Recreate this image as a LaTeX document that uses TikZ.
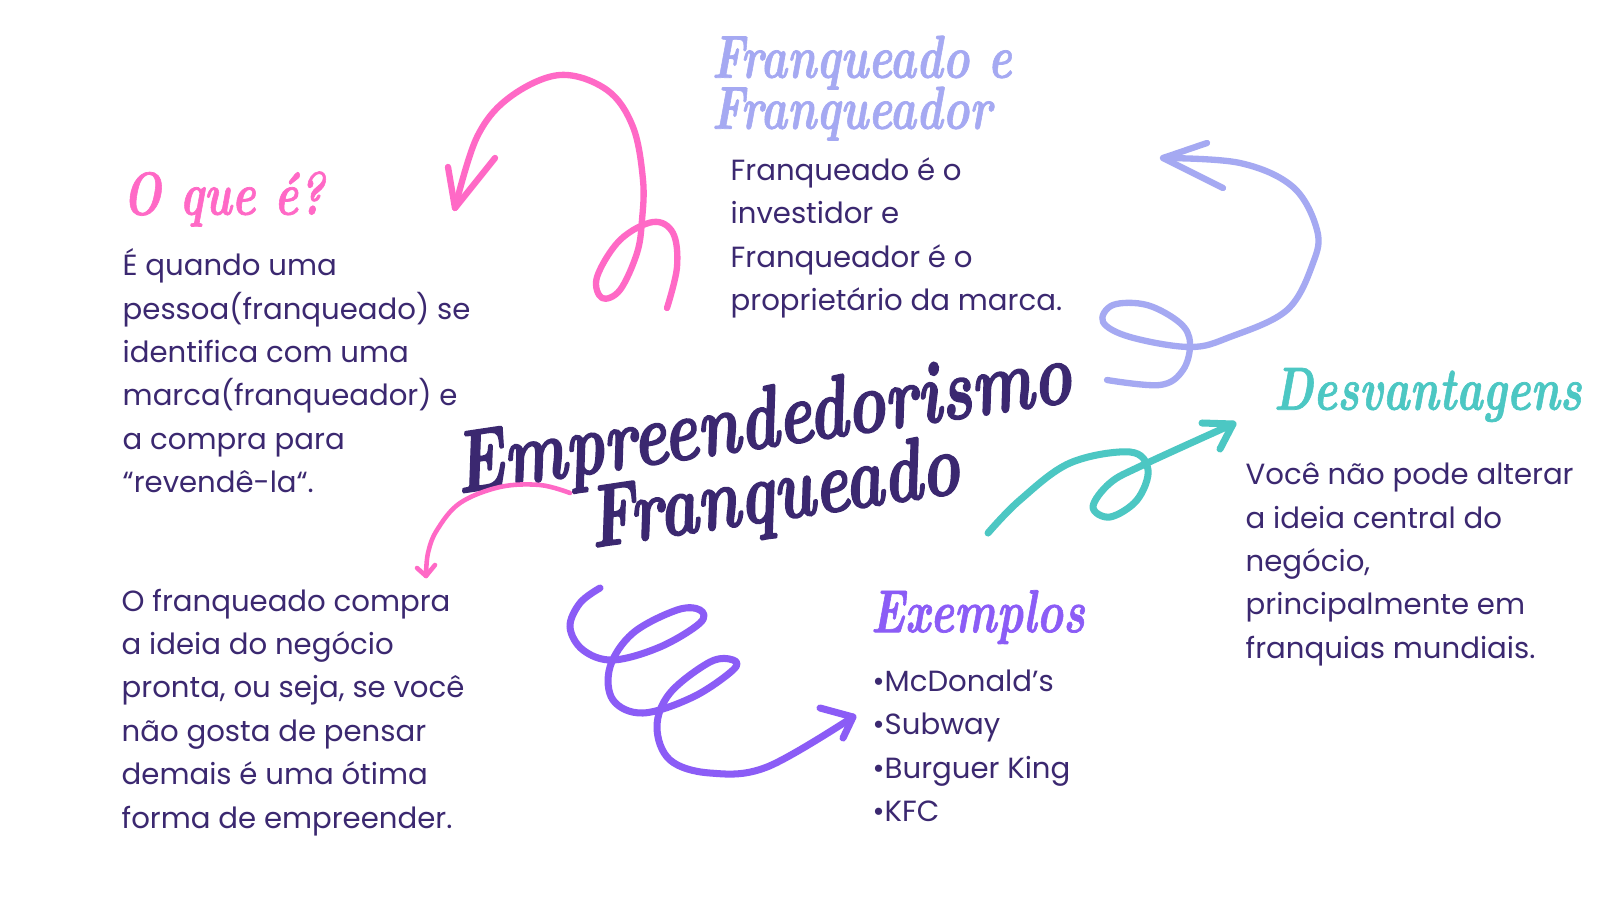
\documentclass[tikz,border=0pt]{standalone}
\usepackage{fontspec}
\newfontfamily\pop{Poppins}
\newfontfamily\scr{lmroman10-bolditalic}[Extension=.otf, FakeBold=1.2]
\newfontfamily\scrt{lmroman10-bolditalic}[Extension=.otf, FakeBold=1.8]
\definecolor{darkc}{HTML}{3B2870}
\definecolor{pinkc}{HTML}{FF69C6}
\definecolor{lavc}{HTML}{A5A9F2}
\definecolor{tealc}{HTML}{4CC7C3}
\definecolor{violc}{HTML}{8B5CF6}
\tikzset{
  body/.style={anchor=north west, inner sep=0pt, align=left, text=darkc, font=\pop\fontsize{8.3}{12.35}\selectfont},
  head/.style={anchor=west, inner sep=0pt, font=\scr\fontsize{12.8}{14}\selectfont},
  brush/.style={line width=1.8pt, line cap=round, line join=round},
}
\newcommand{\tall}[1]{\scalebox{1}[1.35]{#1}}
\begin{document}
\begin{tikzpicture}
\useasboundingbox[fill=white] (0,0) rectangle (16,9);

% headings
\node[head, text=pinkc] (hq) at (1.22,7.01) {\tall{O que é?}};
\node[head, text=lavc] (hf) at (7.11,8.10) {\tall{\begin{tabular}{@{}l@{}}Franqueado e\\[-3.25pt]Franqueador\end{tabular}}};
\node[head, text=tealc] (hd) at (12.73,5.05) {\tall{Desvantagens}};
\node[head, text=violc] (he) at (8.70,2.83) {\tall{Exemplos}};

% title
\node[inner sep=0pt, rotate=8.5, text=darkc, font=\scrt\fontsize{18.6}{20}\selectfont] (title) at (7.69,4.35) {\tall{\begin{tabular}{@{}c@{}}Empreendedorismo\\[-4.5pt]Franqueado\end{tabular}}};

% bodies
\node[body] (bq) at (1.22,6.52) {É quando uma\\pessoa(franqueado) se\\identifica com uma\\marca(franqueador) e\\a compra para\\“revendê-la“.};
\node[body] (bo) at (1.21,3.12) {O franqueado compra\\a ideia do negócio\\pronta, ou seja, se você\\não gosta de pensar\\demais é uma ótima\\forma de empreender.};
\node[body] (bf) at (7.30,7.43) {Franqueado é o\\investidor e\\Franqueador é o\\proprietário da marca.};
\node[body] (bd) at (12.45,4.38) {Você não pode alterar\\a ideia central do\\negócio,\\principalmente em\\franquias mundiais.};
\node[body] (be) at (8.72,2.31) {•McDonald’s\\•Subway\\•Burguer King\\•KFC};

% pink top arrow
\draw[brush, pinkc] plot[smooth, tension=0.6] coordinates {(6.67,5.92) (6.77,6.33) (6.73,6.67) (6.53,6.78) (6.20,6.60) (5.97,6.23) (6.02,6.02) (6.20,6.10) (6.37,6.47) (6.42,6.80) (6.43,7.20) (6.33,7.73) (6.07,8.10) (5.60,8.25) (5.10,8.03) (4.77,7.63) (4.55,6.92)};
\coordinate (p1) at (4.55,6.92);
\draw[brush, pinkc] (4.48,7.33) -- (p1) -- (4.95,7.42);

% lavender arrow
\draw[brush, lavc] plot[smooth, tension=0.6] coordinates {(11.07,5.20) (11.60,5.15) (11.83,5.30) (11.90,5.57) (11.80,5.77) (11.47,5.95) (11.13,5.95) (11.03,5.78) (11.30,5.63) (11.90,5.53) (12.30,5.63) (12.87,5.90) (13.13,6.37) (13.17,6.70) (12.93,7.13) (12.40,7.37) (11.63,7.42)};
\coordinate (l1) at (11.63,7.42);
\draw[brush, lavc] (12.07,7.57) -- (l1) -- (12.23,7.12);

% teal arrow
\draw[brush, tealc, line width=2pt] plot[smooth, tension=0.6] coordinates {(9.88,3.67) (10.20,4.00) (10.70,4.37) (11.30,4.48) (11.48,4.30) (11.37,4.00) (11.10,3.83) (10.93,3.93) (11.10,4.17) (11.43,4.35) (12.33,4.76)};
\coordinate (tt) at (12.33,4.76);
\draw[brush, tealc, line width=2pt] (12.02,4.77) -- (tt) -- (12.20,4.51);

% violet arrow
\draw[brush, violc, line width=2pt] plot[smooth, tension=0.6] coordinates {(6.00,3.12) (5.80,2.97) (5.70,2.73) (5.83,2.50) (6.13,2.40) (6.60,2.53) (7.00,2.77) (7.00,2.90) (6.77,2.90) (6.33,2.67) (6.10,2.33) (6.13,2.00) (6.43,1.87) (6.93,2.03) (7.33,2.30) (7.33,2.40) (7.10,2.38) (6.70,2.07) (6.57,1.73) (6.70,1.40) (7.10,1.27) (7.67,1.33) (8.53,1.83)};
\coordinate (vt) at (8.53,1.83);
\draw[brush, violc, line width=2pt] (8.20,1.92) -- (vt) -- (8.43,1.62);

% pink small arrow
\draw[brush, pinkc, line width=1.3pt] plot[smooth, tension=0.6] coordinates {(5.70,4.07) (5.40,4.15) (5.00,4.13) (4.60,3.97) (4.37,3.70) (4.28,3.47) (4.26,3.24)};
\coordinate (ps) at (4.26,3.24);
\draw[brush, pinkc, line width=1.3pt] (4.17,3.32) -- (ps) -- (4.35,3.35);
\end{tikzpicture}
\end{document}
